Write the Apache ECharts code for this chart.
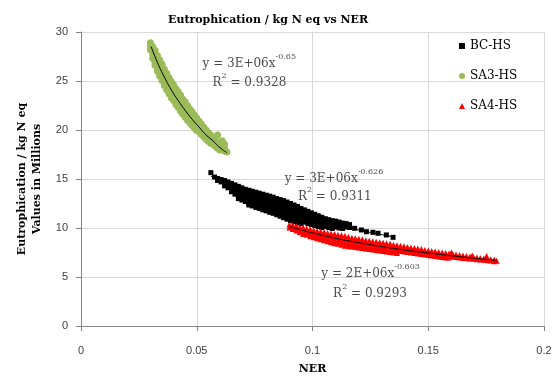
<!DOCTYPE html>
<html>
<head>
<meta charset="utf-8">
<script src="https://cdn.jsdelivr.net/npm/echarts@6.0.0/dist/echarts.min.js"></script>
<style>
  html, body { margin: 0; padding: 0; background: #ffffff; }
  #chart { width: 559px; height: 378px; }
</style>
</head>
<body>
<div id="chart"></div>
<script>
// Each row: [NER, value, value, ...] — all points sharing one NER value (values in millions)
const bcCols = [
  [0.0561, 15.65],
  [0.0577, 15.2],
  [0.0590, 15.05, 14.85],
  [0.0605, 14.95, 14.7],
  [0.0620, 14.85, 14.55, 14.3],
  [0.0635, 14.7, 14.4, 14.1],
  [0.0650, 14.55, 14.2, 13.9, 13.7],
  [0.0665, 14.4, 14.05, 13.75, 13.45],
  [0.0680, 14.25, 13.9, 13.6, 13.3, 13.0],
  [0.0695, 14.1, 13.75, 13.45, 13.15, 12.85],
  [0.0710, 13.95, 13.6, 13.3, 13.0, 12.7],
  [0.0725, 13.85, 13.5, 13.2, 12.9, 12.55, 12.35],
  [0.0740, 13.75, 13.4, 13.05, 12.75, 12.45, 12.25],
  [0.0755, 13.65, 13.3, 12.95, 12.65, 12.35, 12.1],
  [0.0770, 13.55, 13.2, 12.85, 12.5, 12.2, 12.0],
  [0.0785, 13.45, 13.1, 12.75, 12.4, 12.1, 11.85],
  [0.0800, 13.35, 13.0, 12.65, 12.3, 11.95, 11.75],
  [0.0815, 13.25, 12.9, 12.55, 12.2, 11.85, 11.6],
  [0.0830, 13.15, 12.8, 12.45, 12.1, 11.75, 11.5],
  [0.0845, 13.0, 12.7, 12.35, 12.0, 11.65, 11.35],
  [0.0860, 12.9, 12.55, 12.2, 11.85, 11.5, 11.2],
  [0.0875, 12.8, 12.45, 12.1, 11.75, 11.4, 11.05],
  [0.0890, 12.65, 12.3, 11.95, 11.6, 11.25, 10.9],
  [0.0905, 12.5, 12.15, 11.8, 11.45, 11.1, 10.75],
  [0.0920, 12.35, 12.0, 11.65, 11.3, 10.95, 10.65],
  [0.0935, 12.2, 11.85, 11.5, 11.15, 10.8, 10.55],
  [0.0950, 12.0, 11.7, 11.35, 11.0, 10.7, 10.45],
  [0.0965, 11.85, 11.55, 11.2, 10.9, 10.6],
  [0.0980, 11.7, 11.4, 11.05, 10.75, 10.45],
  [0.0995, 11.55, 11.25, 10.95, 10.65, 10.35],
  [0.1010, 11.4, 11.1, 10.8, 10.5, 10.25],
  [0.1025, 11.25, 10.95, 10.65, 10.4, 10.15],
  [0.1040, 11.1, 10.8, 10.5, 10.25, 10.05],
  [0.1055, 10.95, 10.65, 10.4, 10.15],
  [0.1070, 10.85, 10.55, 10.3, 10.05],
  [0.1085, 10.75, 10.45, 10.2, 9.95],
  [0.1100, 10.7, 10.4, 10.1],
  [0.1115, 10.6, 10.3, 10.0],
  [0.1130, 10.5, 10.2, 9.95],
  [0.1145, 10.45, 10.1],
  [0.1160, 10.35, 10.05],
  [0.1182, 9.97],
  [0.1211, 9.8],
  [0.1233, 9.62],
  [0.1261, 9.56],
  [0.1283, 9.46],
  [0.1319, 9.29],
  [0.1348, 9.05]
];

const sa3Cols = [
  [0.0300, 28.9, 28.55, 28.2],
  [0.0310, 28.5, 28.1, 27.7, 27.3],
  [0.0320, 28.1, 27.7, 27.3, 26.9, 26.6],
  [0.0330, 27.6, 27.2, 26.8, 26.4, 26.0],
  [0.0340, 27.15, 26.75, 26.35, 25.95, 25.5],
  [0.0350, 26.7, 26.3, 25.9, 25.5, 25.05],
  [0.0360, 26.2, 25.8, 25.4, 25.0, 24.55],
  [0.0370, 25.8, 25.4, 25.0, 24.6, 24.1],
  [0.0380, 25.35, 24.95, 24.55, 24.15, 23.7],
  [0.0390, 24.95, 24.55, 24.15, 23.75, 23.3],
  [0.0400, 24.6, 24.2, 23.8, 23.4, 23.0],
  [0.0410, 24.2, 23.8, 23.4, 23.0, 22.6],
  [0.0420, 23.9, 23.5, 23.1, 22.7, 22.3],
  [0.0430, 23.55, 23.15, 22.75, 22.35, 21.95],
  [0.0440, 23.15, 22.75, 22.35, 21.95, 21.6],
  [0.0450, 22.85, 22.45, 22.05, 21.65, 21.3],
  [0.0460, 22.5, 22.1, 21.7, 21.3, 21.0],
  [0.0470, 22.15, 21.75, 21.4, 21.05, 20.75],
  [0.0480, 21.85, 21.45, 21.1, 20.75, 20.45],
  [0.0490, 21.5, 21.15, 20.8, 20.45, 20.2],
  [0.0500, 21.2, 20.85, 20.5, 20.15, 19.95],
  [0.0510, 20.9, 20.55, 20.2, 19.85],
  [0.0520, 20.6, 20.25, 19.9, 19.55],
  [0.0530, 20.3, 19.95, 19.6, 19.3],
  [0.0540, 20.0, 19.65, 19.3, 19.05],
  [0.0550, 19.75, 19.4, 19.05, 18.85],
  [0.0560, 19.5, 19.15, 18.85, 18.65],
  [0.0570, 19.25, 18.9, 18.55],
  [0.0580, 18.95, 18.65, 18.35],
  [0.0590, 19.5, 18.7, 18.4, 18.15],
  [0.0600, 18.5, 18.2, 17.95],
  [0.0610, 18.9, 18.3, 18.0],
  [0.0620, 18.55, 18.1, 17.85],
  [0.0630, 17.75]
];

const sa4Cols = [
  [0.0900, 10.32, 10.05],
  [0.0915, 10.3, 10.05, 9.9],
  [0.0930, 10.2, 9.95, 9.75],
  [0.0945, 10.1, 9.85, 9.6],
  [0.0960, 10.05, 9.8, 9.55, 9.4],
  [0.0975, 9.95, 9.7, 9.45, 9.3],
  [0.0990, 9.9, 9.6, 9.35, 9.15],
  [0.1005, 9.8, 9.55, 9.3, 9.05],
  [0.1020, 9.7, 9.45, 9.2, 8.95],
  [0.1035, 9.65, 9.35, 9.1, 8.85],
  [0.1050, 9.6, 9.3, 9.0, 8.75],
  [0.1065, 9.5, 9.2, 8.9, 8.65],
  [0.1080, 9.45, 9.15, 8.85, 8.55],
  [0.1095, 9.4, 9.05, 8.75, 8.45],
  [0.1110, 9.3, 9.0, 8.7, 8.4],
  [0.1125, 9.25, 8.95, 8.6, 8.3],
  [0.1140, 9.2, 8.85, 8.55, 8.2],
  [0.1155, 9.1, 8.8, 8.45, 8.15],
  [0.1170, 9.0, 8.7, 8.4, 8.1],
  [0.1185, 8.95, 8.65, 8.35, 8.05],
  [0.1200, 8.9, 8.6, 8.3, 8.0],
  [0.1215, 8.85, 8.55, 8.25, 7.95],
  [0.1230, 8.75, 8.45, 8.15, 7.9],
  [0.1245, 8.7, 8.4, 8.1, 7.85],
  [0.1260, 8.65, 8.35, 8.05, 7.8],
  [0.1275, 8.6, 8.3, 8.0, 7.75],
  [0.1290, 8.55, 8.25, 7.95, 7.7],
  [0.1305, 8.5, 8.2, 7.9, 7.65],
  [0.1320, 8.45, 8.15, 7.85, 7.6],
  [0.1335, 8.4, 8.1, 7.8, 7.55],
  [0.1350, 8.3, 8.0, 7.75, 7.5],
  [0.1365, 8.25, 7.95, 7.7, 7.45],
  [0.1380, 8.2, 7.9, 7.65],
  [0.1395, 8.15, 7.85, 7.6],
  [0.1410, 8.05, 7.8, 7.55],
  [0.1425, 8.0, 7.75, 7.5],
  [0.1440, 7.95, 7.7, 7.45],
  [0.1455, 7.9, 7.65, 7.4],
  [0.1470, 7.85, 7.6, 7.35],
  [0.1485, 7.75, 7.5, 7.3],
  [0.1500, 7.7, 7.45, 7.25],
  [0.1515, 7.65, 7.4, 7.2],
  [0.1530, 7.6, 7.35, 7.15],
  [0.1545, 7.55, 7.3, 7.1],
  [0.1560, 7.5, 7.25, 7.05],
  [0.1575, 7.45, 7.2, 7.0],
  [0.1590, 7.4, 7.15, 6.98],
  [0.1600, 7.5],
  [0.1605, 7.35, 7.1],
  [0.1620, 7.3, 7.05],
  [0.1635, 7.25, 7.0],
  [0.1650, 7.2, 6.95],
  [0.1665, 7.15, 6.92],
  [0.1680, 7.1, 6.88],
  [0.1690, 7.2],
  [0.1695, 7.05, 6.85],
  [0.1710, 7.0, 6.8],
  [0.1725, 6.95, 6.78],
  [0.1740, 6.9, 6.75],
  [0.1752, 7.15],
  [0.1755, 6.85, 6.72],
  [0.1770, 6.8, 6.68],
  [0.1785, 6.75, 6.6],
  [0.1795, 6.65]
];

// Power trendlines, sampled along each fitted curve
const bcTrend = [[0.0561, 15.3], [0.065, 14.1], [0.075, 13.0], [0.085, 12.1], [0.095, 11.3], [0.105, 10.6], [0.115, 10.05], [0.125, 9.55], [0.1348, 9.1]];
const sa3Trend = [[0.0303, 28.5], [0.033, 26.9], [0.036, 25.4], [0.039, 24.1], [0.042, 23.0], [0.045, 22.0], [0.048, 21.1], [0.051, 20.3], [0.054, 19.5], [0.057, 18.9], [0.060, 18.2], [0.063, 17.7]];
const sa4Trend = [[0.0901, 10.15], [0.100, 9.5], [0.110, 8.95], [0.120, 8.5], [0.130, 8.1], [0.140, 7.75], [0.150, 7.45], [0.160, 7.17], [0.170, 6.92], [0.1795, 6.7]];

// Fit equations: [anchor NER, anchor value, text, superscript, trailing text]
const fitLabels = [
  [0.0525, 27.0, 'y = 3E+06x', '-0.65', ''],
  [0.0568, 25.1, 'R', '2', ' = 0.9328'],
  [0.0880, 15.3, 'y = 3E+06x', '-0.626', ''],
  [0.0937, 13.45, 'R', '2', ' = 0.9311'],
  [0.1038, 5.6, 'y = 2E+06x', '-0.603', ''],
  [0.1089, 3.55, 'R', '2', ' = 0.9293']
];

const seriesNames = ['BC-HS', 'SA3-HS', 'SA4-HS'];
const xTicks = { min: 0, max: 0.2, interval: 0.05 };
const yTicks = { min: 0, max: 30, interval: 5 };

function toPoints(cols) {
  const pts = [];
  cols.forEach(function (c) {
    for (let i = 1; i < c.length; i++) pts.push([c[0], c[i]]);
  });
  return pts;
}

const serif = 'DejaVu Serif';
const axisGray = '#868686';
const gridGray = '#d9d9d9';
const textDark = '#1a1a1a';

function trendSeries(data) {
  return {
    type: 'line', data: data, smooth: true, showSymbol: false, silent: true,
    lineStyle: { color: '#000000', width: 1 }, z: 5
  };
}

const chart = echarts.init(document.getElementById('chart'), null, { renderer: 'canvas' });
chart.setOption({
  animation: false,
  backgroundColor: '#ffffff',
  title: {
    text: 'Eutrophication / kg N eq vs NER',
    left: 163, top: 10,
    textStyle: { fontFamily: serif, fontWeight: 'bold', fontSize: 11, color: '#000000' }
  },
  grid: { left: 81, right: 15, top: 32, bottom: 52, containLabel: false, outerBoundsMode: 'none' },
  legend: {
    orient: 'vertical', left: 454, top: 35,
    itemWidth: 6, itemHeight: 6, itemGap: 18,
    textStyle: { fontFamily: serif, fontSize: 12, color: '#000000' },
    data: [
      { name: seriesNames[0], icon: 'rect' },
      { name: seriesNames[1], icon: 'circle' },
      { name: seriesNames[2], icon: 'triangle' }
    ]
  },
  xAxis: {
    type: 'value', min: xTicks.min, max: xTicks.max, interval: xTicks.interval,
    name: 'NER', nameLocation: 'middle', nameGap: 38,
    nameTextStyle: { fontFamily: serif, fontWeight: 'bold', fontSize: 11, color: '#000000' },
    axisLine: { show: true, lineStyle: { color: axisGray } },
    axisTick: { show: true, inside: false, length: 5, lineStyle: { color: axisGray } },
    splitLine: { show: true, lineStyle: { color: gridGray } },
    axisLabel: { fontFamily: 'Liberation Sans', fontSize: 11, color: '#404040', margin: 19 }
  },
  yAxis: {
    type: 'value', min: yTicks.min, max: yTicks.max, interval: yTicks.interval,
    name: 'Eutrophication / kg N eq\nValues in Millions', nameLocation: 'middle', nameGap: 35, nameRotate: 90,
    nameTextStyle: { fontFamily: serif, fontWeight: 'bold', fontSize: 11, color: '#000000', lineHeight: 15, align: 'center' },
    axisLine: { show: true, lineStyle: { color: axisGray } },
    axisTick: { show: true, inside: false, length: 5, lineStyle: { color: axisGray } },
    splitLine: { show: true, lineStyle: { color: gridGray } },
    axisLabel: { fontFamily: 'Liberation Sans', fontSize: 11, color: '#404040', margin: 13 }
  },
  series: [
    {
      name: seriesNames[0], type: 'scatter', data: toPoints(bcCols),
      symbol: 'rect', symbolSize: 5, itemStyle: { color: '#000000', opacity: 1 }, large: false, z: 2
    },
    {
      name: seriesNames[1], type: 'scatter', data: toPoints(sa3Cols),
      symbol: 'circle', symbolSize: 7, itemStyle: { color: '#9bbb59', opacity: 1 }, large: false, z: 2
    },
    {
      name: seriesNames[2], type: 'scatter', data: toPoints(sa4Cols),
      symbol: 'triangle', symbolSize: 6, itemStyle: { color: '#ff0000', opacity: 1 }, large: false, z: 2
    },
    trendSeries(bcTrend),
    trendSeries(sa3Trend),
    trendSeries(sa4Trend),
    {
      type: 'scatter', silent: true, z: 6,
      symbolSize: 0,
      data: fitLabels.map(function (f) { return [f[0], f[1]]; }),
      label: {
        show: true, position: 'right', distance: 0,
        formatter: function (p) {
          const f = fitLabels[p.dataIndex];
          return '{n|' + f[2] + '}{s|' + f[3] + '}' + (f[4] ? '{n|' + f[4] + '}' : '');
        },
        rich: {
          n: { fontFamily: serif, fontSize: 12, color: textDark, lineHeight: 17, verticalAlign: 'bottom' },
          s: { fontFamily: serif, fontSize: 8, color: textDark, lineHeight: 10, verticalAlign: 'top' }
        }
      }
    }
  ]
});
</script>
</body>
</html>
